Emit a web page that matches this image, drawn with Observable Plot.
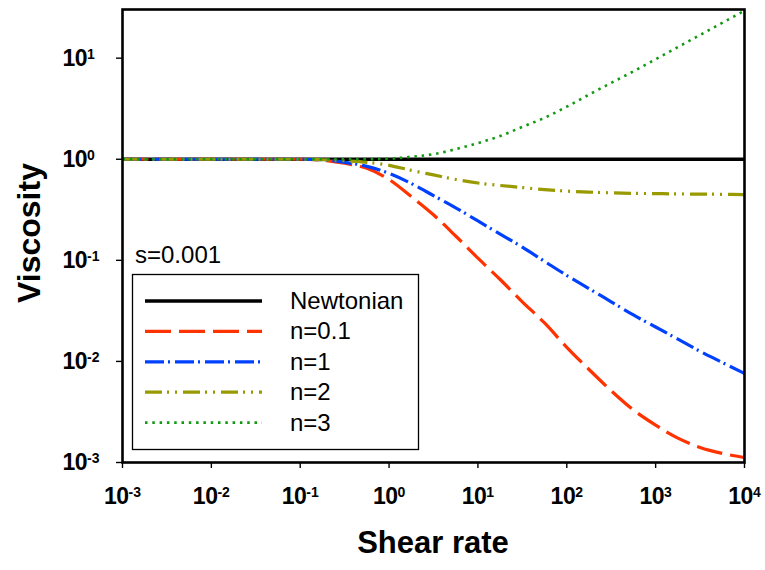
<!DOCTYPE html>
<html><head><meta charset="utf-8">
<script src="https://cdn.jsdelivr.net/npm/d3@7"></script>
<script src="https://cdn.jsdelivr.net/npm/@observablehq/plot@0.6"></script>
<style>
body{margin:0;background:#fff;}
#chart{position:absolute;left:0;top:0;}
</style>
</head><body><div id="chart"></div>
<script>
// ---- data ----
const shearRate = [0.001, 0.01, 0.1, 0.178, 0.316, 0.562, 1, 1.78, 3.16, 5.62, 10, 17.8, 31.6, 56.2, 100, 178, 316, 562, 1000, 1780, 3160, 5620, 10000];
const newtonian = [1, 1, 1, 1, 1, 1, 1, 1, 1, 1, 1, 1, 1, 1, 1, 1, 1, 1, 1, 1, 1, 1, 1];
const n01 = [1, 1, 1, 0.977, 0.912, 0.813, 0.631, 0.427, 0.282, 0.174, 0.105, 0.0646, 0.0389, 0.0240, 0.0138, 0.00832, 0.00513, 0.00331, 0.00234, 0.00174, 0.00141, 0.00123, 0.00112];
const n1 = [1, 1, 1, 0.989, 0.933, 0.851, 0.724, 0.575, 0.437, 0.331, 0.245, 0.182, 0.135, 0.0977, 0.0708, 0.0525, 0.0389, 0.0288, 0.0219, 0.0166, 0.0126, 0.00977, 0.00759];
const n2 = [1, 1, 1, 0.989, 0.966, 0.933, 0.871, 0.776, 0.700, 0.631, 0.582, 0.550, 0.525, 0.501, 0.484, 0.473, 0.465, 0.460, 0.457, 0.454, 0.452, 0.450, 0.447];
const n3 = [1, 1, 1, 1, 1, 1, 1.012, 1.059, 1.122, 1.259, 1.445, 1.698, 2.089, 2.570, 3.311, 4.365, 5.689, 7.413, 9.772, 12.88, 16.98, 22.39, 29.51];
const seriesNames = ["Newtonian", "n=0.1", "n=1", "n=2", "n=3"];
const seriesValues = [newtonian, n01, n1, n2, n3];
const xTicks = [0.001, 0.01, 0.1, 1, 10, 100, 1000, 10000];
const xTickLabels = ["10^-3", "10^-2", "10^-1", "10^0", "10^1", "10^2", "10^3", "10^4"];
const yTicks = [0.001, 0.01, 0.1, 1, 10];
const yTickLabels = ["10^-3", "10^-2", "10^-1", "10^0", "10^1"];
const xTitle = "Shear rate";
const yTitle = "Viscosity";
const note = "s=0.001";

// ---- styles ----
const styles = [
  {stroke: "#000000", strokeWidth: 3.5, dash: null},
  {stroke: "#ff3300", strokeWidth: 3.2, dash: "26,8"},
  {stroke: "#0040ff", strokeWidth: 3.2, dash: "19,4,2,5"},
  {stroke: "#999900", strokeWidth: 3.2, dash: "17,5,2,6,2,6"},
  {stroke: "#119911", strokeWidth: 2.6, dash: "2.5,4.8"}
];
const FONT = "'Liberation Sans', Arial, Helvetica, sans-serif";

const xLabelMap = new Map(xTicks.map((t, i) => [t, xTickLabels[i]]));
const yLabelMap = new Map(yTicks.map((t, i) => [t, yTickLabels[i]]));

const rows = seriesNames.flatMap((name, i) =>
  shearRate.map((x, j) => ({series: name, x, y: seriesValues[i][j]})));

const lineMarks = seriesNames.map((name, i) =>
  Plot.line(rows.filter(r => r.series === name), {
    x: "x", y: "y",
    stroke: styles[i].stroke,
    strokeWidth: styles[i].strokeWidth,
    strokeDasharray: styles[i].dash,
    strokeLinecap: "butt",
    curve: "monotone-x"
  }));

const chart = Plot.plot({
  width: 765,
  height: 570,
  marginLeft: 122,
  marginRight: 21,
  marginTop: 9,
  marginBottom: 108,
  style: {fontFamily: FONT, background: "#fff", color: "#000"},
  x: {type: "log", domain: [0.001, 10000]},
  y: {type: "log", domain: [0.001, 30.3]},
  marks: [
    ...lineMarks,
    Plot.axisX({ticks: xTicks, tickFormat: d => xLabelMap.get(d), tickSize: 6, tickPadding: 19,
      fontSize: 23, fontWeight: "bold", strokeWidth: 1.4, label: null}),
    Plot.axisY({ticks: yTicks, tickFormat: () => "", tickSize: 6, strokeWidth: 1.4, label: null}),
    Plot.axisY({ticks: yTicks, tickFormat: d => yLabelMap.get(d), tickSize: 0, tickPadding: 0,
      fontSize: 23, fontWeight: "bold", label: null, textAnchor: "start", dx: -60}),
    Plot.frame({stroke: "#000", strokeWidth: 2.6})
  ]
});
document.getElementById("chart").appendChild(chart);

const svg = d3.select(chart);
// superscript exponents in tick labels
svg.selectAll("text").each(function() {
  const t = d3.select(this);
  if (t.selectAll("tspan").size() > 0) return;
  const s = t.text();
  if (!s.includes("^")) return;
  const [base, exp] = s.split("^");
  t.text(null);
  t.append("tspan").attr("letter-spacing", "-0.5").text(base);
  t.append("tspan").attr("dy", "-7").attr("font-size", 14).text(exp);
});

// axis titles
svg.append("text").attr("x", 433).attr("y", 553).attr("text-anchor", "middle")
  .attr("font-family", FONT).attr("font-size", 31).attr("font-weight", "bold").text(xTitle);
svg.append("text").attr("transform", "translate(40,233) rotate(-90)").attr("text-anchor", "middle")
  .attr("font-family", FONT).attr("font-size", 32).attr("font-weight", "bold").text(yTitle);

// note
svg.append("text").attr("x", 135).attr("y", 263).attr("text-anchor", "start")
  .attr("font-family", FONT).attr("font-size", 24).text(note);

// legend
const lg = svg.append("g");
lg.append("rect").attr("x", 132.5).attr("y", 274.5).attr("width", 286).attr("height", 175)
  .attr("fill", "#fff").attr("stroke", "#000").attr("stroke-width", 1.3);
seriesNames.forEach((name, i) => {
  const yy = 301 + i * 30.4;
  const ln = lg.append("line").attr("x1", 145).attr("x2", 262).attr("y1", yy).attr("y2", yy)
    .attr("stroke", styles[i].stroke).attr("stroke-width", styles[i].strokeWidth);
  if (styles[i].dash) ln.attr("stroke-dasharray", styles[i].dash);
  lg.append("text").attr("x", 290).attr("y", yy + 8).attr("text-anchor", "start")
    .attr("font-family", FONT).attr("font-size", 24).text(name);
});
</script>
</body></html>
